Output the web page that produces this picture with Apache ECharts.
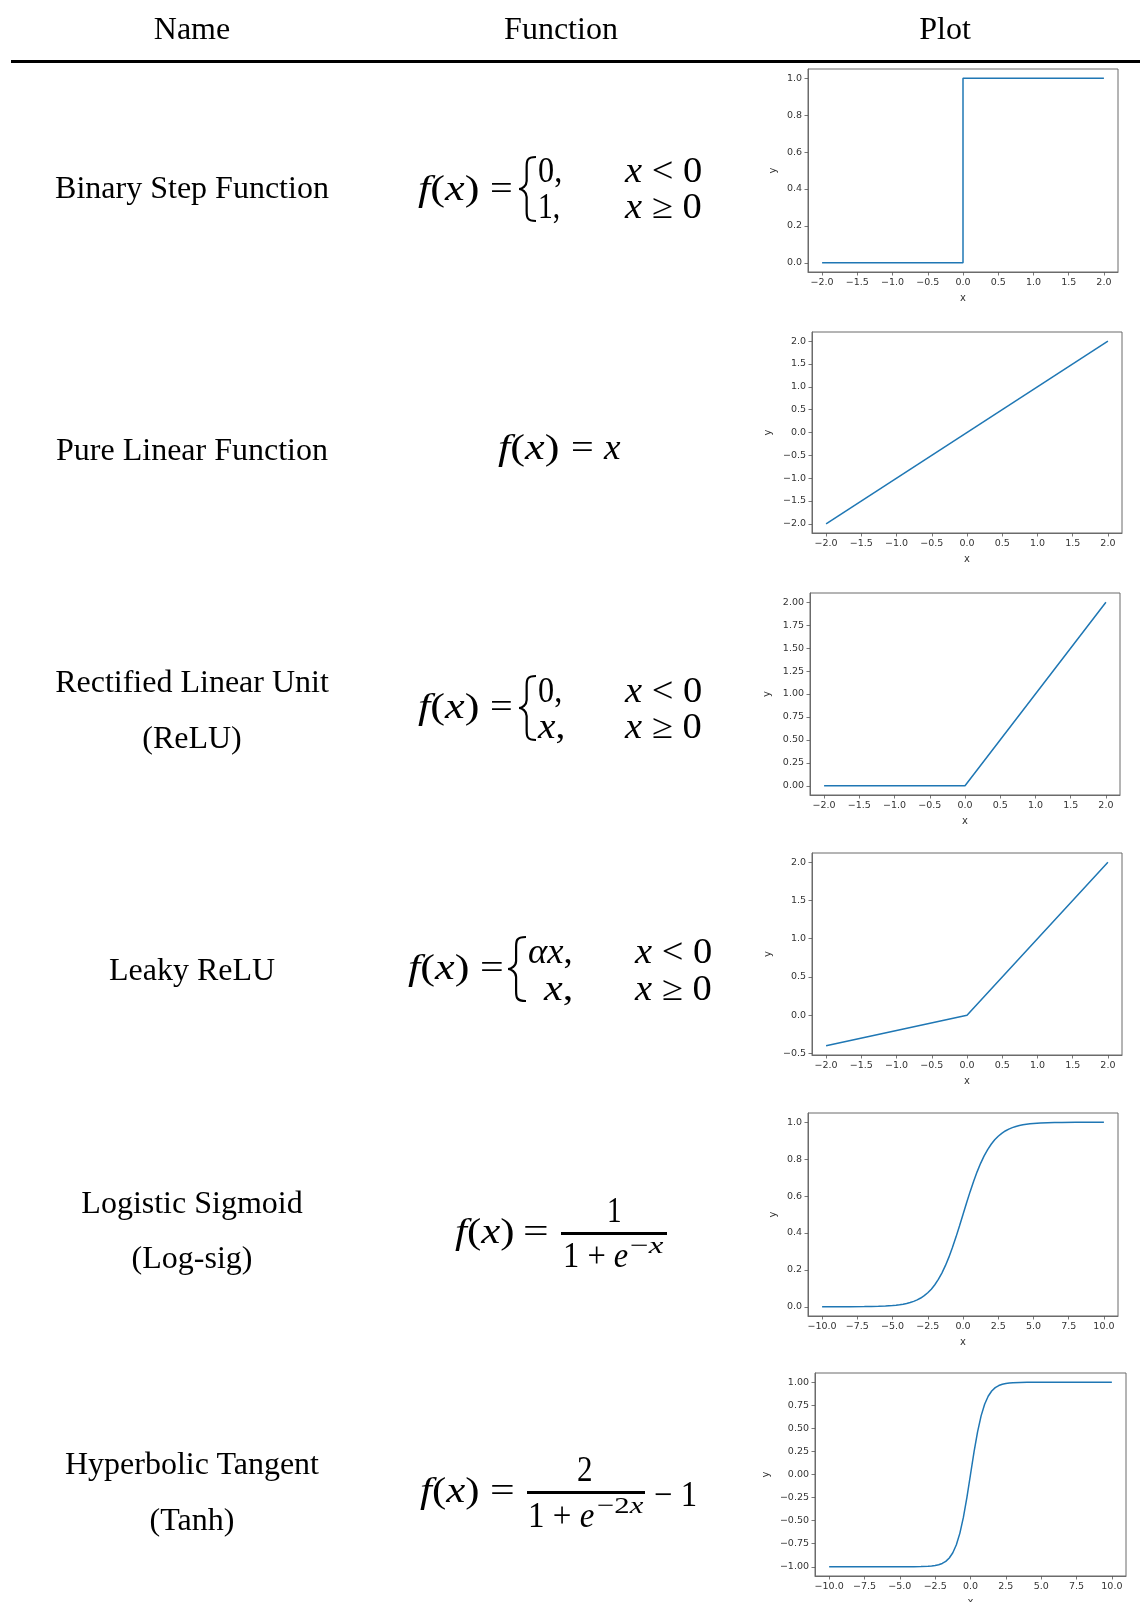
<!DOCTYPE html>
<html><head><meta charset="utf-8">
<script src="https://cdn.jsdelivr.net/npm/echarts@6/dist/echarts.min.js"></script>
<style>
html,body{margin:0;padding:0;background:#fff;}
#page{position:relative;width:1140px;height:1602px;overflow:hidden;background:#fff;}
#chart{position:absolute;left:0;top:0;width:1140px;height:1602px;}
.t{position:absolute;white-space:nowrap;line-height:1;color:#000;}
.name{font-family:'Liberation Serif','Times New Roman',serif;font-size:32px;transform:translate(-50%,-50%);}
.m{font-family:'Liberation Serif','Times New Roman',serif;font-size:35px;transform-origin:0 50%;}
.s{font-size:24px;}
#rule{position:absolute;left:11px;top:60px;width:1129px;height:3px;background:#000;}
.bar{position:absolute;height:2.5px;background:#000;}
svg{position:absolute;left:0;top:0;}
</style></head>
<body>
<div id="page">
<div id="chart"></div>
<div id="rule"></div>
</div>
<script>
// ---------------- data ----------------
const headers = ['Name', 'Function', 'Plot'];
const rowNames = [
  ['Binary Step Function'],
  ['Pure Linear Function'],
  ['Rectified Linear Unit', '(ReLU)'],
  ['Leaky ReLU'],
  ['Logistic Sigmoid', '(Log-sig)'],
  ['Hyperbolic Tangent', '(Tanh)']
];

// plot 1: binary step
const stepX = [-2, 0, 0, 2];
const stepY = [0, 0, 1, 1];
// plot 2: pure linear
const linX = [-2, 2];
const linY = [-2, 2];
// plot 3: ReLU
const reluX = [-2, 0, 2];
const reluY = [0, 0, 2];
// plot 4: Leaky ReLU
const leakyX = [-2, 0, 2];
const leakyY = [-0.4, 0, 2];
// plot 5: logistic sigmoid
const sigX = [-10, -9, -8, -7, -6.5, -6, -5.5, -5, -4.75, -4.5, -4.25, -4, -3.75, -3.5, -3.25, -3, -2.75, -2.5, -2.25, -2, -1.75, -1.5, -1.25, -1, -0.75, -0.5, -0.25, 0,
  0.25, 0.5, 0.75, 1, 1.25, 1.5, 1.75, 2, 2.25, 2.5, 2.75, 3, 3.25, 3.5, 3.75, 4, 4.25, 4.5, 4.75, 5, 5.5, 6, 6.5, 7, 8, 9, 10];
const sigY = [0.0000, 0.0001, 0.0003, 0.0009, 0.0015, 0.0025, 0.0041, 0.0067, 0.0086, 0.0110, 0.0141, 0.0180, 0.0230, 0.0293, 0.0373, 0.0474, 0.0601, 0.0759, 0.0953, 0.1192, 0.1480, 0.1824, 0.2227, 0.2689, 0.3208, 0.3775, 0.4378, 0.5000,
  0.5622, 0.6225, 0.6792, 0.7311, 0.7773, 0.8176, 0.8520, 0.8808, 0.9047, 0.9241, 0.9399, 0.9526, 0.9627, 0.9707, 0.9770, 0.9820, 0.9859, 0.9890, 0.9914, 0.9933, 0.9959, 0.9975, 0.9985, 0.9991, 0.9997, 0.9999, 1.0000];
// plot 6: tanh
const tanhX = [-10, -8, -6, -5, -4, -3.5, -3, -2.75, -2.5, -2.25, -2, -1.75, -1.5, -1.25, -1, -0.75, -0.5, -0.25, 0, 0.25, 0.5, 0.75, 1, 1.25, 1.5, 1.75, 2, 2.25, 2.5, 2.75, 3, 3.5, 4, 5, 6, 8, 10];
const tanhY = [-1.0000, -1.0000, -1.0000, -0.9999, -0.9993, -0.9982, -0.9951, -0.9918, -0.9866, -0.9780, -0.9640, -0.9414, -0.9051, -0.8483, -0.7616, -0.6351, -0.4621, -0.2449, 0, 0.2449, 0.4621, 0.6351, 0.7616, 0.8483, 0.9051, 0.9414, 0.9640, 0.9780, 0.9866, 0.9918, 0.9951, 0.9982, 0.9993, 0.9999, 1.0000, 1.0000, 1.0000];

// tick labels
const xTicksSmall = [-2.0, -1.5, -1.0, -0.5, 0.0, 0.5, 1.0, 1.5, 2.0];
const xTicksWide = [-10.0, -7.5, -5.0, -2.5, 0.0, 2.5, 5.0, 7.5, 10.0];
const yTicksStep = [0.0, 0.2, 0.4, 0.6, 0.8, 1.0];
const yTicksLinear = [-2.0, -1.5, -1.0, -0.5, 0.0, 0.5, 1.0, 1.5, 2.0];
const yTicksRelu = [0.00, 0.25, 0.50, 0.75, 1.00, 1.25, 1.50, 1.75, 2.00];
const yTicksLeaky = [-0.5, 0.0, 0.5, 1.0, 1.5, 2.0];
const yTicksSigmoid = [0.0, 0.2, 0.4, 0.6, 0.8, 1.0];
const yTicksTanh = [-1.00, -0.75, -0.50, -0.25, 0.00, 0.25, 0.50, 0.75, 1.00];

// ---------------- layout ----------------
const page = document.getElementById('page');
function put(html, x, cy, cls, w) {
  const d = document.createElement('div');
  d.className = 't ' + cls;
  d.innerHTML = html;
  d.style.left = x + 'px';
  d.style.top = cy + 'px';
  page.appendChild(d);
  if (cls.indexOf('m') === 0) {
    const s = w ? w / d.offsetWidth : 1;
    d.style.transform = 'translateY(-50%) scaleX(' + s.toFixed(3) + ')';
  }
  return d;
}
// header
const headerX = [192, 561, 945];
headers.forEach((h, i) => put(h, headerX[i], 28, 'name'));
// names
const nameY = [[187], [449], [681, 737], [969], [1202, 1257], [1463, 1519]];
rowNames.forEach((lines, r) => lines.forEach((l, k) => put(l, 192, nameY[r][k], 'name')));

// formulas
const F = '<i>f</i>(<i>x</i>)';
const X = '<i>x</i>';
const pieces = [
  // binary step
  [F, 418, 188, 62], ['=', 490, 188, 23], ['0,', 538, 170, 24], ['1,', 538, 206, 22],
  [X + ' &lt; 0', 625, 170, 77], [X + ' ≥ 0', 625, 206, 77],
  // linear
  [F, 498, 447, 62], ['=', 571, 447, 23], [X, 604, 447, 17],
  // relu
  [F, 418, 706, 62], ['=', 490, 706, 23], ['0,', 538, 690, 24], [X + ',', 538, 726, 27],
  [X + ' &lt; 0', 625, 690, 77], [X + ' ≥ 0', 625, 726, 77],
  // leaky
  [F, 408, 967, 62], ['=', 480, 967, 24], ['<i>αx</i>,', 528, 951, 45], [X + ',', 544, 988, 29],
  [X + ' &lt; 0', 635, 951, 77], [X + ' ≥ 0', 635, 988, 77],
  // sigmoid
  [F, 455, 1231, 60], ['=', 523, 1231, 26], ['1', 607, 1210, 15], ['1 + <i>e</i>', 563, 1255, 65],
  // tanh
  [F, 420, 1490, 60], ['=', 490, 1490, 25], ['2', 577, 1469, 16], ['1 + <i>e</i>', 528, 1515, 66],
  ['− 1', 654, 1494, 43]
];
pieces.forEach(p => put(p[0], p[1], p[2], 'm', p[3]));
const sups = [
  ['−<i>x</i>', 630, 1245, 33],
  ['−2<i>x</i>', 597, 1505, 46]
];
sups.forEach(p => put(p[0], p[1], p[2], 'm s', p[3]));
// fraction bars
[[561, 1232, 106], [527, 1491, 118]].forEach(b => {
  const d = document.createElement('div');
  d.className = 'bar';
  d.style.left = b[0] + 'px'; d.style.top = b[1] + 'px'; d.style.width = b[2] + 'px';
  page.appendChild(d);
});
// braces
const braces = [[519, 536, 189], [519, 536, 708], [508, 526, 969]];
let svg = '<svg width="1140" height="1602" xmlns="http://www.w3.org/2000/svg">';
braces.forEach(b => {
  const x1 = b[0], x2 = b[1], c = b[2], h = 32;
  const xm = x1 + (x2 - x1) * 0.45;
  svg += `<path d="M${x2} ${c - h} C${xm} ${c - h} ${xm} ${c - h + 4} ${xm} ${c - h + 10} L${xm} ${c - 8} C${xm} ${c - 3} ${x1 + 3} ${c} ${x1} ${c} C${x1 + 3} ${c} ${xm} ${c + 3} ${xm} ${c + 8} L${xm} ${c + h - 10} C${xm} ${c + h - 4} ${xm} ${c + h} ${x2} ${c + h}" fill="none" stroke="#000" stroke-width="2.2"/>`;
});
svg += '</svg>';
page.insertAdjacentHTML('beforeend', svg);

// ---------------- charts ----------------
const blue = '#1f77b4';
const plots = [
  {g: [808, 69, 310, 203], xr: [-2.2, 2.2], yr: [-0.05, 1.05], xt: xTicksSmall, yt: yTicksStep, yd: 1, xs: stepX, ys: stepY, yGap: 30},
  {g: [812, 332, 310, 201], xr: [-2.2, 2.2], yr: [-2.2, 2.2], xt: xTicksSmall, yt: yTicksLinear, yd: 1, xs: linX, ys: linY, yGap: 39},
  {g: [810, 593, 310, 202], xr: [-2.2, 2.2], yr: [-0.1, 2.1], xt: xTicksSmall, yt: yTicksRelu, yd: 2, xs: reluX, ys: reluY, yGap: 38},
  {g: [812, 853, 310, 202], xr: [-2.2, 2.2], yr: [-0.52, 2.12], xt: xTicksSmall, yt: yTicksLeaky, yd: 1, xs: leakyX, ys: leakyY, yGap: 39},
  {g: [808, 1113, 310, 203], xr: [-11, 11], yr: [-0.05, 1.05], xt: xTicksWide, yt: yTicksSigmoid, yd: 1, xs: sigX, ys: sigY, yGap: 30},
  {g: [815, 1373, 311, 203], xr: [-11, 11], yr: [-1.1, 1.1], xt: xTicksWide, yt: yTicksTanh, yd: 2, xs: tanhX, ys: tanhY, yGap: 44}
];
const fmt = d => v => (v < 0 ? '\u2212' : '') + Math.abs(v).toFixed(d);
const lblStyle = {fontFamily: 'DejaVu Sans', fontSize: 9.5, color: '#333'};
const chart = echarts.init(document.getElementById('chart'), null, {renderer: 'canvas'});
const option = {
  animation: false,
  grid: plots.map(p => ({left: p.g[0], top: p.g[1], width: p.g[2], height: p.g[3], show: true,
    borderColor: '#6b6b6b', borderWidth: 1, backgroundColor: 'transparent', containLabel: false, outerBoundsMode: 'none'})),
  xAxis: plots.map((p, i) => ({
    type: 'value', gridIndex: i, min: p.xr[0], max: p.xr[1], name: 'x', nameLocation: 'middle', nameGap: 21,
    nameTextStyle: Object.assign({}, lblStyle, {fontSize: 10}),
    axisLine: {show: true, onZero: false, lineStyle: {color: '#6b6b6b', width: 1}},
    axisTick: {show: true, length: 3.5, customValues: p.xt, lineStyle: {color: '#555', width: 0.8}},
    axisLabel: Object.assign({show: true, margin: 6, customValues: p.xt, formatter: fmt(1)}, lblStyle),
    splitLine: {show: false}
  })),
  yAxis: plots.map((p, i) => ({
    type: 'value', gridIndex: i, min: p.yr[0], max: p.yr[1], name: 'y', nameLocation: 'middle', nameGap: p.yGap, nameRotate: 90,
    nameTextStyle: Object.assign({}, lblStyle, {fontSize: 10}),
    axisLine: {show: true, onZero: false, lineStyle: {color: '#6b6b6b', width: 1}},
    axisTick: {show: true, length: 3.5, customValues: p.yt, lineStyle: {color: '#555', width: 0.8}},
    axisLabel: Object.assign({show: true, margin: 6, customValues: p.yt, formatter: fmt(p.yd)}, lblStyle),
    splitLine: {show: false}
  })),
  series: plots.map((p, i) => ({
    type: 'line', xAxisIndex: i, yAxisIndex: i, showSymbol: false, symbol: 'none', smooth: false,
    lineStyle: {color: blue, width: 1.5}, itemStyle: {color: blue},
    data: p.xs.map((x, k) => [x, p.ys[k]])
  }))
};
chart.setOption(option);
</script>
</body></html>
